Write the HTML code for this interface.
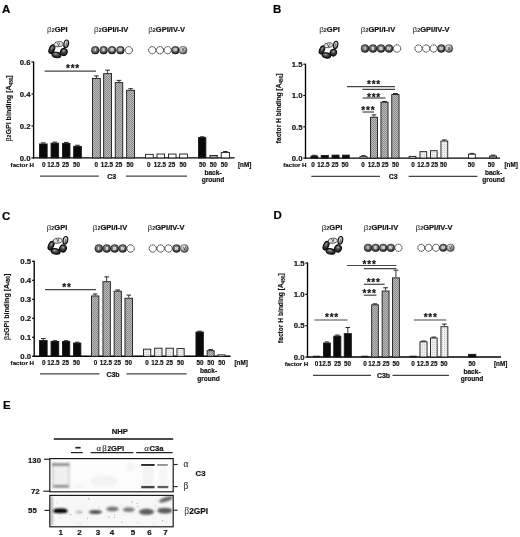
<!DOCTYPE html>
<html><head><meta charset="utf-8"><title>Figure</title>
<style>
html,body{margin:0;padding:0;background:#fff;}
body{width:520px;height:537px;overflow:hidden;}
svg{display:block;font-family:"Liberation Sans",sans-serif;}
</style></head><body>
<svg width="520" height="537" viewBox="0 0 520 537">
<defs>
<pattern id="hatch" width="2" height="2" patternUnits="userSpaceOnUse">
<rect width="2" height="2" fill="#bababa"/><rect width="1" height="1" fill="#8c8c8c"/><rect x="1" y="1" width="1" height="1" fill="#8c8c8c"/>
</pattern>
<pattern id="dots" width="2" height="2" patternUnits="userSpaceOnUse">
<rect width="2" height="2" fill="#efefef"/><rect width="1" height="1" fill="#cfcfcf"/>
</pattern>
<radialGradient id="gDark" cx="0.45" cy="0.42" r="0.6"><stop offset="0" stop-color="#a4a4a4"/><stop offset="0.5" stop-color="#6c6c6c"/><stop offset="0.8" stop-color="#333"/><stop offset="1" stop-color="#0c0c0c"/></radialGradient>
<radialGradient id="gRing" cx="0.4" cy="0.35" r="0.7"><stop offset="0" stop-color="#a8a8a8"/><stop offset="0.4" stop-color="#4a4a4a"/><stop offset="1" stop-color="#141414"/></radialGradient>
<radialGradient id="gMid" cx="0.38" cy="0.32" r="0.72"><stop offset="0" stop-color="#f0f0f0"/><stop offset="0.5" stop-color="#aaa"/><stop offset="1" stop-color="#3a3a3a"/></radialGradient>
<filter id="blur0" x="-5%" y="-5%" width="110%" height="110%"><feGaussianBlur stdDeviation="0.5"/></filter>
<filter id="blur1" x="-5%" y="-5%" width="110%" height="110%"><feGaussianBlur stdDeviation="0.8"/></filter>
<filter id="blur2" x="-5%" y="-5%" width="110%" height="110%"><feGaussianBlur stdDeviation="1.6"/></filter>
</defs>
<rect width="520" height="537" fill="#fff"/>

<g id="panelA">
<text x="2.00" y="13.20" font-size="11.5" text-anchor="start" font-weight="bold" fill="#000" stroke="#000" stroke-width="0.18" >A</text>
<text x="57.30" y="32.30" font-size="7.5" text-anchor="middle" fill="#111"><tspan font-weight="normal" fill="#222" font-size="8.10">β</tspan><tspan font-size="5.40" font-weight="bold">2</tspan><tspan font-weight="bold" stroke="#111" stroke-width="0.2">GPI</tspan></text>
<text x="111.20" y="32.30" font-size="7.5" text-anchor="middle" fill="#111"><tspan font-weight="normal" fill="#222" font-size="8.10">β</tspan><tspan font-size="5.40" font-weight="bold">2</tspan><tspan font-weight="bold" stroke="#111" stroke-width="0.2">GPI/I-IV</tspan></text>
<text x="166.60" y="32.30" font-size="7.5" text-anchor="middle" fill="#111"><tspan font-weight="normal" fill="#222" font-size="8.10">β</tspan><tspan font-size="5.40" font-weight="bold">2</tspan><tspan font-weight="bold" stroke="#111" stroke-width="0.2">GPI/IV-V</tspan></text>
<g transform="translate(58.80,49.00) scale(1.0)">
<ellipse cx="-6.9" cy="0.0" rx="2.5" ry="4.5" fill="url(#gRing)" stroke="#0a0a0a" stroke-width="1.1" transform="rotate(24 -7.2 0)"/>
<ellipse cx="-2.4" cy="5.9" rx="4.6" ry="2.7" fill="url(#gRing)" stroke="#0a0a0a" stroke-width="1.1" transform="rotate(10 -2.4 5.9)"/>
<ellipse cx="5.0" cy="3.0" rx="3.3" ry="3.5" fill="url(#gRing)" stroke="#0a0a0a" stroke-width="1.1" transform="rotate(30 5 3)"/>
<ellipse cx="7.4" cy="-5.1" rx="2.3" ry="3.9" fill="url(#gMid)" stroke="#0a0a0a" stroke-width="1.1" transform="rotate(10 7.4 -5.1)"/>
<ellipse cx="-0.2" cy="-4.8" rx="4.5" ry="2.5" fill="#e2e2e2" stroke="#333" stroke-width="0.8" transform="rotate(-6 -0.2 -4.8)"/>
<text x="-0.2" y="-3.3" font-size="4" text-anchor="middle" font-weight="bold" fill="#111">V</text>
<text x="7.4" y="-3.8" font-size="3.4" text-anchor="middle" font-weight="bold" fill="#222">I</text>
</g>
<circle cx="95.20" cy="50.20" r="3.90" fill="url(#gDark)" stroke="#111" stroke-width="0.4"/>
<circle cx="103.60" cy="50.20" r="3.90" fill="url(#gDark)" stroke="#111" stroke-width="0.4"/>
<circle cx="112.00" cy="50.20" r="3.90" fill="url(#gDark)" stroke="#111" stroke-width="0.4"/>
<circle cx="120.40" cy="50.20" r="3.90" fill="url(#gDark)" stroke="#111" stroke-width="0.4"/>
<circle cx="128.80" cy="50.20" r="3.60" fill="#fff" stroke="#222" stroke-width="0.9" stroke-dasharray="1.8 0.4"/>
<text x="95.20" y="51.40" font-size="3.8" text-anchor="middle" font-weight="bold" fill="#fff">I</text>
<text x="103.60" y="51.40" font-size="3.8" text-anchor="middle" font-weight="bold" fill="#fff">II</text>
<text x="112.00" y="51.40" font-size="3.8" text-anchor="middle" font-weight="bold" fill="#fff">III</text>
<text x="120.40" y="51.40" font-size="3.8" text-anchor="middle" font-weight="bold" fill="#fff">IV</text>
<circle cx="152.30" cy="50.20" r="3.60" fill="#fff" stroke="#222" stroke-width="0.9" stroke-dasharray="1.8 0.4"/>
<circle cx="160.00" cy="50.20" r="3.60" fill="#fff" stroke="#222" stroke-width="0.9" stroke-dasharray="1.8 0.4"/>
<circle cx="167.70" cy="50.20" r="3.60" fill="#fff" stroke="#222" stroke-width="0.9" stroke-dasharray="1.8 0.4"/>
<circle cx="175.40" cy="50.20" r="3.90" fill="url(#gDark)" stroke="#111" stroke-width="0.4"/>
<circle cx="183.10" cy="50.20" r="3.90" fill="url(#gMid)" stroke="#333" stroke-width="0.5"/>
<text x="175.40" y="51.40" font-size="3.8" text-anchor="middle" font-weight="bold" fill="#fff">IV</text>
<text x="183.10" y="51.40" font-size="3.8" text-anchor="middle" font-weight="bold" fill="#222">V</text>
<line x1="33.60" y1="61.50" x2="33.60" y2="158.50" stroke="#000" stroke-width="1.35"/>
<line x1="33.00" y1="157.90" x2="234.60" y2="157.90" stroke="#000" stroke-width="1.4"/>
<line x1="31.40" y1="157.90" x2="33.60" y2="157.90" stroke="#000" stroke-width="1.1"/>
<text x="30.60" y="160.65" font-size="7.8" text-anchor="end" font-weight="bold" fill="#111" stroke="#111" stroke-width="0.18" >0.0</text>
<line x1="31.40" y1="125.93" x2="33.60" y2="125.93" stroke="#000" stroke-width="1.1"/>
<text x="30.60" y="128.68" font-size="7.8" text-anchor="end" font-weight="bold" fill="#111" stroke="#111" stroke-width="0.18" >0.2</text>
<line x1="31.40" y1="93.97" x2="33.60" y2="93.97" stroke="#000" stroke-width="1.1"/>
<text x="30.60" y="96.72" font-size="7.8" text-anchor="end" font-weight="bold" fill="#111" stroke="#111" stroke-width="0.18" >0.4</text>
<line x1="31.40" y1="62.00" x2="33.60" y2="62.00" stroke="#000" stroke-width="1.1"/>
<text x="30.60" y="64.75" font-size="7.8" text-anchor="end" font-weight="bold" fill="#111" stroke="#111" stroke-width="0.18" >0.6</text>
<text transform="translate(11.20,108.40) rotate(-90)" font-size="7.1" text-anchor="middle" font-weight="bold" fill="#111" stroke="#111" stroke-width="0.15"><tspan font-weight="normal">β</tspan><tspan font-size="5">2</tspan>GPI binding [A<tspan font-size="4.6" dy="1.3">450</tspan><tspan dy="-1.3">]</tspan></text>
<line x1="43.30" y1="142.88" x2="43.30" y2="143.52" stroke="#222" stroke-width="0.9"/>
<line x1="41.00" y1="142.88" x2="45.60" y2="142.88" stroke="#222" stroke-width="1.0"/>
<rect x="39.45" y="143.97" width="7.70" height="13.93" fill="#0a0a0a" stroke="#1a1a1a" stroke-width="0.9"/>
<line x1="54.85" y1="142.08" x2="54.85" y2="142.72" stroke="#222" stroke-width="0.9"/>
<line x1="52.55" y1="142.08" x2="57.15" y2="142.08" stroke="#222" stroke-width="1.0"/>
<rect x="51.05" y="143.17" width="7.60" height="14.73" fill="#0a0a0a" stroke="#1a1a1a" stroke-width="0.9"/>
<line x1="66.20" y1="142.40" x2="66.20" y2="143.04" stroke="#222" stroke-width="0.9"/>
<line x1="63.90" y1="142.40" x2="68.50" y2="142.40" stroke="#222" stroke-width="1.0"/>
<rect x="62.45" y="143.49" width="7.50" height="14.41" fill="#0a0a0a" stroke="#1a1a1a" stroke-width="0.9"/>
<line x1="77.50" y1="145.27" x2="77.50" y2="145.91" stroke="#222" stroke-width="0.9"/>
<line x1="75.20" y1="145.27" x2="79.80" y2="145.27" stroke="#222" stroke-width="1.0"/>
<rect x="73.65" y="146.36" width="7.70" height="11.54" fill="#0a0a0a" stroke="#1a1a1a" stroke-width="0.9"/>
<line x1="96.40" y1="75.91" x2="96.40" y2="77.98" stroke="#222" stroke-width="0.9"/>
<line x1="94.10" y1="75.91" x2="98.70" y2="75.91" stroke="#222" stroke-width="1.0"/>
<rect x="92.45" y="78.43" width="7.90" height="79.47" fill="url(#hatch)" stroke="#1a1a1a" stroke-width="0.9"/>
<line x1="107.60" y1="70.15" x2="107.60" y2="73.19" stroke="#222" stroke-width="0.9"/>
<line x1="105.30" y1="70.15" x2="109.90" y2="70.15" stroke="#222" stroke-width="1.0"/>
<rect x="103.65" y="73.64" width="7.90" height="84.26" fill="url(#hatch)" stroke="#1a1a1a" stroke-width="0.9"/>
<line x1="119.00" y1="80.38" x2="119.00" y2="82.14" stroke="#222" stroke-width="0.9"/>
<line x1="116.70" y1="80.38" x2="121.30" y2="80.38" stroke="#222" stroke-width="1.0"/>
<rect x="115.25" y="82.59" width="7.50" height="75.31" fill="url(#hatch)" stroke="#1a1a1a" stroke-width="0.9"/>
<line x1="130.60" y1="88.69" x2="130.60" y2="89.81" stroke="#222" stroke-width="0.9"/>
<line x1="128.30" y1="88.69" x2="132.90" y2="88.69" stroke="#222" stroke-width="1.0"/>
<rect x="126.65" y="90.26" width="7.90" height="67.64" fill="url(#hatch)" stroke="#1a1a1a" stroke-width="0.9"/>
<rect x="145.45" y="154.35" width="7.80" height="3.55" fill="#fff" stroke="#1a1a1a" stroke-width="0.9"/>
<rect x="156.95" y="154.03" width="7.60" height="3.87" fill="#fff" stroke="#1a1a1a" stroke-width="0.9"/>
<rect x="168.45" y="154.03" width="7.60" height="3.87" fill="#fff" stroke="#1a1a1a" stroke-width="0.9"/>
<rect x="179.65" y="154.03" width="7.90" height="3.87" fill="#fff" stroke="#1a1a1a" stroke-width="0.9"/>
<line x1="202.15" y1="136.80" x2="202.15" y2="137.12" stroke="#222" stroke-width="0.9"/>
<line x1="199.85" y1="136.80" x2="204.45" y2="136.80" stroke="#222" stroke-width="1.0"/>
<rect x="198.45" y="137.57" width="7.40" height="20.33" fill="#0a0a0a" stroke="#1a1a1a" stroke-width="0.9"/>
<rect x="209.95" y="155.47" width="7.30" height="2.43" fill="url(#hatch)" stroke="#1a1a1a" stroke-width="0.9"/>
<line x1="225.40" y1="151.51" x2="225.40" y2="152.15" stroke="#222" stroke-width="0.9"/>
<line x1="223.10" y1="151.51" x2="227.70" y2="151.51" stroke="#222" stroke-width="1.0"/>
<rect x="221.25" y="152.60" width="8.30" height="5.30" fill="#fff" stroke="#1a1a1a" stroke-width="0.9"/>
<text x="34.00" y="166.50" font-size="6.2" text-anchor="end" font-weight="bold" fill="#111" stroke="#111" stroke-width="0.18" >factor H</text>
<text x="43.70" y="166.50" font-size="6.3" text-anchor="middle" font-weight="bold" fill="#111" stroke="#111" stroke-width="0.18" >0</text>
<text x="53.50" y="166.50" font-size="6.3" text-anchor="middle" font-weight="bold" fill="#111" stroke="#111" stroke-width="0.18" >12.5</text>
<text x="65.50" y="166.50" font-size="6.3" text-anchor="middle" font-weight="bold" fill="#111" stroke="#111" stroke-width="0.18" >25</text>
<text x="76.50" y="166.50" font-size="6.3" text-anchor="middle" font-weight="bold" fill="#111" stroke="#111" stroke-width="0.18" >50</text>
<text x="96.30" y="166.50" font-size="6.3" text-anchor="middle" font-weight="bold" fill="#111" stroke="#111" stroke-width="0.18" >0</text>
<text x="107.00" y="166.50" font-size="6.3" text-anchor="middle" font-weight="bold" fill="#111" stroke="#111" stroke-width="0.18" >12.5</text>
<text x="118.80" y="166.50" font-size="6.3" text-anchor="middle" font-weight="bold" fill="#111" stroke="#111" stroke-width="0.18" >25</text>
<text x="130.00" y="166.50" font-size="6.3" text-anchor="middle" font-weight="bold" fill="#111" stroke="#111" stroke-width="0.18" >50</text>
<text x="148.80" y="166.50" font-size="6.3" text-anchor="middle" font-weight="bold" fill="#111" stroke="#111" stroke-width="0.18" >0</text>
<text x="160.00" y="166.50" font-size="6.3" text-anchor="middle" font-weight="bold" fill="#111" stroke="#111" stroke-width="0.18" >12.5</text>
<text x="171.80" y="166.50" font-size="6.3" text-anchor="middle" font-weight="bold" fill="#111" stroke="#111" stroke-width="0.18" >25</text>
<text x="183.00" y="166.50" font-size="6.3" text-anchor="middle" font-weight="bold" fill="#111" stroke="#111" stroke-width="0.18" >50</text>
<text x="202.50" y="166.50" font-size="6.3" text-anchor="middle" font-weight="bold" fill="#111" stroke="#111" stroke-width="0.18" >50</text>
<text x="213.30" y="166.50" font-size="6.3" text-anchor="middle" font-weight="bold" fill="#111" stroke="#111" stroke-width="0.18" >50</text>
<text x="224.30" y="166.50" font-size="6.3" text-anchor="middle" font-weight="bold" fill="#111" stroke="#111" stroke-width="0.18" >50</text>
<text x="238.00" y="166.50" font-size="6.3" text-anchor="start" font-weight="bold" fill="#111" stroke="#111" stroke-width="0.18" >[nM]</text>
<text x="111.80" y="178.90" font-size="7" text-anchor="middle" font-weight="bold" fill="#111" stroke="#111" stroke-width="0.18" >C3</text>
<line x1="40.00" y1="176.20" x2="98.80" y2="176.20" stroke="#444" stroke-width="1.3"/>
<line x1="126.00" y1="176.20" x2="187.00" y2="176.20" stroke="#444" stroke-width="1.3"/>
<text x="213.00" y="174.90" font-size="6.6" text-anchor="middle" font-weight="bold" fill="#111" stroke="#111" stroke-width="0.18" >back-</text>
<text x="213.00" y="182.20" font-size="6.6" text-anchor="middle" font-weight="bold" fill="#111" stroke="#111" stroke-width="0.18" >ground</text>
<line x1="44.60" y1="71.20" x2="96.00" y2="71.20" stroke="#444" stroke-width="1.2"/>
<text x="73.00" y="72.30" font-size="10" text-anchor="middle" font-weight="bold" fill="#111" stroke="#111" stroke-width="0.18" letter-spacing="0.8">***</text>
</g>
<g id="panelB">
<text x="273.00" y="13.20" font-size="11.5" text-anchor="start" font-weight="bold" fill="#000" stroke="#000" stroke-width="0.18" >B</text>
<text x="329.50" y="32.30" font-size="7.5" text-anchor="middle" fill="#111"><tspan font-weight="normal" fill="#222" font-size="8.10">β</tspan><tspan font-size="5.40" font-weight="bold">2</tspan><tspan font-weight="bold" stroke="#111" stroke-width="0.2">GPI</tspan></text>
<text x="378.00" y="32.30" font-size="7.5" text-anchor="middle" fill="#111"><tspan font-weight="normal" fill="#222" font-size="8.10">β</tspan><tspan font-size="5.40" font-weight="bold">2</tspan><tspan font-weight="bold" stroke="#111" stroke-width="0.2">GPI/I-IV</tspan></text>
<text x="431.00" y="32.30" font-size="7.5" text-anchor="middle" fill="#111"><tspan font-weight="normal" fill="#222" font-size="8.10">β</tspan><tspan font-size="5.40" font-weight="bold">2</tspan><tspan font-weight="bold" stroke="#111" stroke-width="0.2">GPI/IV-V</tspan></text>
<g transform="translate(328.60,49.80) scale(0.95)">
<ellipse cx="-6.9" cy="0.0" rx="2.5" ry="4.5" fill="url(#gRing)" stroke="#0a0a0a" stroke-width="1.1" transform="rotate(24 -7.2 0)"/>
<ellipse cx="-2.4" cy="5.9" rx="4.6" ry="2.7" fill="url(#gRing)" stroke="#0a0a0a" stroke-width="1.1" transform="rotate(10 -2.4 5.9)"/>
<ellipse cx="5.0" cy="3.0" rx="3.3" ry="3.5" fill="url(#gRing)" stroke="#0a0a0a" stroke-width="1.1" transform="rotate(30 5 3)"/>
<ellipse cx="7.4" cy="-5.1" rx="2.3" ry="3.9" fill="url(#gMid)" stroke="#0a0a0a" stroke-width="1.1" transform="rotate(10 7.4 -5.1)"/>
<ellipse cx="-0.2" cy="-4.8" rx="4.5" ry="2.5" fill="#e2e2e2" stroke="#333" stroke-width="0.8" transform="rotate(-6 -0.2 -4.8)"/>
<text x="-0.2" y="-3.3" font-size="4" text-anchor="middle" font-weight="bold" fill="#111">V</text>
<text x="7.4" y="-3.8" font-size="3.4" text-anchor="middle" font-weight="bold" fill="#222">I</text>
</g>
<circle cx="365.00" cy="48.50" r="4.00" fill="url(#gDark)" stroke="#111" stroke-width="0.4"/>
<circle cx="373.00" cy="48.50" r="4.00" fill="url(#gDark)" stroke="#111" stroke-width="0.4"/>
<circle cx="381.00" cy="48.50" r="4.00" fill="url(#gDark)" stroke="#111" stroke-width="0.4"/>
<circle cx="389.00" cy="48.50" r="4.00" fill="url(#gDark)" stroke="#111" stroke-width="0.4"/>
<circle cx="397.00" cy="48.50" r="3.70" fill="#fff" stroke="#222" stroke-width="0.9" stroke-dasharray="1.8 0.4"/>
<text x="365.00" y="49.70" font-size="3.8" text-anchor="middle" font-weight="bold" fill="#fff">I</text>
<text x="373.00" y="49.70" font-size="3.8" text-anchor="middle" font-weight="bold" fill="#fff">II</text>
<text x="381.00" y="49.70" font-size="3.8" text-anchor="middle" font-weight="bold" fill="#fff">III</text>
<text x="389.00" y="49.70" font-size="3.8" text-anchor="middle" font-weight="bold" fill="#fff">IV</text>
<circle cx="418.50" cy="48.50" r="3.60" fill="#fff" stroke="#222" stroke-width="0.9" stroke-dasharray="1.8 0.4"/>
<circle cx="426.10" cy="48.50" r="3.60" fill="#fff" stroke="#222" stroke-width="0.9" stroke-dasharray="1.8 0.4"/>
<circle cx="433.70" cy="48.50" r="3.60" fill="#fff" stroke="#222" stroke-width="0.9" stroke-dasharray="1.8 0.4"/>
<circle cx="441.30" cy="48.50" r="3.90" fill="url(#gDark)" stroke="#111" stroke-width="0.4"/>
<circle cx="448.90" cy="48.50" r="3.90" fill="url(#gMid)" stroke="#333" stroke-width="0.5"/>
<text x="441.30" y="49.70" font-size="3.8" text-anchor="middle" font-weight="bold" fill="#fff">IV</text>
<text x="448.90" y="49.70" font-size="3.8" text-anchor="middle" font-weight="bold" fill="#222">V</text>
<line x1="305.50" y1="63.70" x2="305.50" y2="158.70" stroke="#000" stroke-width="1.35"/>
<line x1="304.90" y1="158.10" x2="500.00" y2="158.10" stroke="#000" stroke-width="1.4"/>
<line x1="303.30" y1="158.10" x2="305.50" y2="158.10" stroke="#000" stroke-width="1.1"/>
<text x="302.50" y="160.85" font-size="7.8" text-anchor="end" font-weight="bold" fill="#111" stroke="#111" stroke-width="0.18" >0.0</text>
<line x1="303.30" y1="126.80" x2="305.50" y2="126.80" stroke="#000" stroke-width="1.1"/>
<text x="302.50" y="129.55" font-size="7.8" text-anchor="end" font-weight="bold" fill="#111" stroke="#111" stroke-width="0.18" >0.5</text>
<line x1="303.30" y1="95.50" x2="305.50" y2="95.50" stroke="#000" stroke-width="1.1"/>
<text x="302.50" y="98.25" font-size="7.8" text-anchor="end" font-weight="bold" fill="#111" stroke="#111" stroke-width="0.18" >1.0</text>
<line x1="303.30" y1="64.20" x2="305.50" y2="64.20" stroke="#000" stroke-width="1.1"/>
<text x="302.50" y="66.95" font-size="7.8" text-anchor="end" font-weight="bold" fill="#111" stroke="#111" stroke-width="0.18" >1.5</text>
<text transform="translate(281.20,108.40) rotate(-90)" font-size="6.65" text-anchor="middle" font-weight="bold" fill="#111" stroke="#111" stroke-width="0.15">factor H binding [A<tspan font-size="4.6" dy="1.3">450</tspan><tspan dy="-1.3">]</tspan></text>
<line x1="314.35" y1="155.28" x2="314.35" y2="155.60" stroke="#222" stroke-width="0.9"/>
<line x1="312.05" y1="155.28" x2="316.65" y2="155.28" stroke="#222" stroke-width="1.0"/>
<rect x="310.95" y="156.05" width="6.80" height="2.05" fill="#0a0a0a" stroke="#1a1a1a" stroke-width="0.9"/>
<rect x="321.25" y="155.42" width="7.10" height="2.68" fill="#0a0a0a" stroke="#1a1a1a" stroke-width="0.9"/>
<rect x="332.05" y="155.11" width="7.00" height="2.99" fill="#0a0a0a" stroke="#1a1a1a" stroke-width="0.9"/>
<rect x="342.45" y="155.11" width="6.80" height="2.99" fill="#0a0a0a" stroke="#1a1a1a" stroke-width="0.9"/>
<line x1="363.50" y1="155.72" x2="363.50" y2="156.22" stroke="#222" stroke-width="0.9"/>
<line x1="361.20" y1="155.72" x2="365.80" y2="155.72" stroke="#222" stroke-width="1.0"/>
<rect x="359.95" y="156.67" width="7.10" height="1.43" fill="url(#dots)" stroke="#1a1a1a" stroke-width="0.9"/>
<line x1="374.00" y1="114.91" x2="374.00" y2="116.78" stroke="#222" stroke-width="0.9"/>
<line x1="371.70" y1="114.91" x2="376.30" y2="114.91" stroke="#222" stroke-width="1.0"/>
<rect x="370.45" y="117.23" width="7.10" height="40.87" fill="url(#hatch)" stroke="#1a1a1a" stroke-width="0.9"/>
<line x1="384.50" y1="101.45" x2="384.50" y2="101.76" stroke="#222" stroke-width="0.9"/>
<line x1="382.20" y1="101.45" x2="386.80" y2="101.45" stroke="#222" stroke-width="1.0"/>
<rect x="380.95" y="102.21" width="7.10" height="55.89" fill="url(#hatch)" stroke="#1a1a1a" stroke-width="0.9"/>
<line x1="395.40" y1="93.50" x2="395.40" y2="94.12" stroke="#222" stroke-width="0.9"/>
<line x1="393.10" y1="93.50" x2="397.70" y2="93.50" stroke="#222" stroke-width="1.0"/>
<rect x="391.75" y="94.57" width="7.30" height="63.53" fill="url(#hatch)" stroke="#1a1a1a" stroke-width="0.9"/>
<rect x="409.15" y="156.36" width="6.70" height="1.74" fill="url(#dots)" stroke="#1a1a1a" stroke-width="0.9"/>
<rect x="419.95" y="151.66" width="6.80" height="6.44" fill="url(#dots)" stroke="#1a1a1a" stroke-width="0.9"/>
<rect x="430.45" y="150.72" width="6.70" height="7.37" fill="url(#dots)" stroke="#1a1a1a" stroke-width="0.9"/>
<line x1="444.35" y1="139.95" x2="444.35" y2="140.57" stroke="#222" stroke-width="0.9"/>
<line x1="442.05" y1="139.95" x2="446.65" y2="139.95" stroke="#222" stroke-width="1.0"/>
<rect x="440.95" y="141.02" width="6.80" height="17.08" fill="url(#dots)" stroke="#1a1a1a" stroke-width="0.9"/>
<line x1="471.90" y1="153.41" x2="471.90" y2="153.72" stroke="#222" stroke-width="0.9"/>
<line x1="469.60" y1="153.41" x2="474.20" y2="153.41" stroke="#222" stroke-width="1.0"/>
<rect x="468.45" y="154.17" width="6.90" height="3.93" fill="#fff" stroke="#1a1a1a" stroke-width="0.9"/>
<line x1="493.10" y1="155.10" x2="493.10" y2="155.60" stroke="#222" stroke-width="0.9"/>
<line x1="490.80" y1="155.10" x2="495.40" y2="155.10" stroke="#222" stroke-width="1.0"/>
<rect x="489.65" y="156.05" width="6.90" height="2.05" fill="url(#hatch)" stroke="#1a1a1a" stroke-width="0.9"/>
<text x="306.60" y="166.70" font-size="6.2" text-anchor="end" font-weight="bold" fill="#111" stroke="#111" stroke-width="0.18" >factor H</text>
<text x="313.00" y="166.70" font-size="6.3" text-anchor="middle" font-weight="bold" fill="#111" stroke="#111" stroke-width="0.18" >0</text>
<text x="323.30" y="166.70" font-size="6.3" text-anchor="middle" font-weight="bold" fill="#111" stroke="#111" stroke-width="0.18" >12.5</text>
<text x="335.00" y="166.70" font-size="6.3" text-anchor="middle" font-weight="bold" fill="#111" stroke="#111" stroke-width="0.18" >25</text>
<text x="345.00" y="166.70" font-size="6.3" text-anchor="middle" font-weight="bold" fill="#111" stroke="#111" stroke-width="0.18" >50</text>
<text x="363.00" y="166.70" font-size="6.3" text-anchor="middle" font-weight="bold" fill="#111" stroke="#111" stroke-width="0.18" >0</text>
<text x="373.80" y="166.70" font-size="6.3" text-anchor="middle" font-weight="bold" fill="#111" stroke="#111" stroke-width="0.18" >12.5</text>
<text x="385.00" y="166.70" font-size="6.3" text-anchor="middle" font-weight="bold" fill="#111" stroke="#111" stroke-width="0.18" >25</text>
<text x="395.50" y="166.70" font-size="6.3" text-anchor="middle" font-weight="bold" fill="#111" stroke="#111" stroke-width="0.18" >50</text>
<text x="413.00" y="166.70" font-size="6.3" text-anchor="middle" font-weight="bold" fill="#111" stroke="#111" stroke-width="0.18" >0</text>
<text x="423.30" y="166.70" font-size="6.3" text-anchor="middle" font-weight="bold" fill="#111" stroke="#111" stroke-width="0.18" >12.5</text>
<text x="434.50" y="166.70" font-size="6.3" text-anchor="middle" font-weight="bold" fill="#111" stroke="#111" stroke-width="0.18" >25</text>
<text x="443.50" y="166.70" font-size="6.3" text-anchor="middle" font-weight="bold" fill="#111" stroke="#111" stroke-width="0.18" >50</text>
<text x="471.30" y="166.70" font-size="6.3" text-anchor="middle" font-weight="bold" fill="#111" stroke="#111" stroke-width="0.18" >50</text>
<text x="491.30" y="166.70" font-size="6.3" text-anchor="middle" font-weight="bold" fill="#111" stroke="#111" stroke-width="0.18" >50</text>
<text x="504.50" y="166.70" font-size="6.3" text-anchor="start" font-weight="bold" fill="#111" stroke="#111" stroke-width="0.18" >[nM]</text>
<text x="393.20" y="179.10" font-size="7" text-anchor="middle" font-weight="bold" fill="#111" stroke="#111" stroke-width="0.18" >C3</text>
<line x1="311.30" y1="176.40" x2="380.00" y2="176.40" stroke="#444" stroke-width="1.3"/>
<line x1="408.70" y1="176.40" x2="477.50" y2="176.40" stroke="#444" stroke-width="1.3"/>
<text x="493.50" y="175.10" font-size="6.6" text-anchor="middle" font-weight="bold" fill="#111" stroke="#111" stroke-width="0.18" >back-</text>
<text x="493.50" y="182.40" font-size="6.6" text-anchor="middle" font-weight="bold" fill="#111" stroke="#111" stroke-width="0.18" >ground</text>
<line x1="347.00" y1="86.60" x2="395.00" y2="86.60" stroke="#444" stroke-width="1.2"/>
<text x="374.00" y="87.80" font-size="10" text-anchor="middle" font-weight="bold" fill="#111" stroke="#111" stroke-width="0.18" letter-spacing="0.8">***</text>
<line x1="362.50" y1="89.40" x2="395.00" y2="89.40" stroke="#444" stroke-width="1.2"/>
<line x1="362.50" y1="98.00" x2="385.50" y2="98.00" stroke="#444" stroke-width="1.2"/>
<text x="374.00" y="100.80" font-size="10" text-anchor="middle" font-weight="bold" fill="#111" stroke="#111" stroke-width="0.18" letter-spacing="0.8">***</text>
<line x1="362.50" y1="112.00" x2="374.00" y2="112.00" stroke="#444" stroke-width="1.2"/>
<text x="368.30" y="113.80" font-size="10" text-anchor="middle" font-weight="bold" fill="#111" stroke="#111" stroke-width="0.18" letter-spacing="0.8">***</text>
</g>
<g id="panelC">
<text x="2.00" y="219.50" font-size="11.5" text-anchor="start" font-weight="bold" fill="#000" stroke="#000" stroke-width="0.18" >C</text>
<text x="57.00" y="230.30" font-size="7.5" text-anchor="middle" fill="#111"><tspan font-weight="normal" fill="#222" font-size="8.10">β</tspan><tspan font-size="5.40" font-weight="bold">2</tspan><tspan font-weight="bold" stroke="#111" stroke-width="0.2">GPI</tspan></text>
<text x="110.00" y="230.30" font-size="7.5" text-anchor="middle" fill="#111"><tspan font-weight="normal" fill="#222" font-size="8.10">β</tspan><tspan font-size="5.40" font-weight="bold">2</tspan><tspan font-weight="bold" stroke="#111" stroke-width="0.2">GPI/I-IV</tspan></text>
<text x="166.00" y="230.30" font-size="7.5" text-anchor="middle" fill="#111"><tspan font-weight="normal" fill="#222" font-size="8.10">β</tspan><tspan font-size="5.40" font-weight="bold">2</tspan><tspan font-weight="bold" stroke="#111" stroke-width="0.2">GPI/IV-V</tspan></text>
<g transform="translate(58.00,245.50) scale(1.0)">
<ellipse cx="-6.9" cy="0.0" rx="2.5" ry="4.5" fill="url(#gRing)" stroke="#0a0a0a" stroke-width="1.1" transform="rotate(24 -7.2 0)"/>
<ellipse cx="-2.4" cy="5.9" rx="4.6" ry="2.7" fill="url(#gRing)" stroke="#0a0a0a" stroke-width="1.1" transform="rotate(10 -2.4 5.9)"/>
<ellipse cx="5.0" cy="3.0" rx="3.3" ry="3.5" fill="url(#gRing)" stroke="#0a0a0a" stroke-width="1.1" transform="rotate(30 5 3)"/>
<ellipse cx="7.4" cy="-5.1" rx="2.3" ry="3.9" fill="url(#gMid)" stroke="#0a0a0a" stroke-width="1.1" transform="rotate(10 7.4 -5.1)"/>
<ellipse cx="-0.2" cy="-4.8" rx="4.5" ry="2.5" fill="#e2e2e2" stroke="#333" stroke-width="0.8" transform="rotate(-6 -0.2 -4.8)"/>
<text x="-0.2" y="-3.3" font-size="4" text-anchor="middle" font-weight="bold" fill="#111">V</text>
<text x="7.4" y="-3.8" font-size="3.4" text-anchor="middle" font-weight="bold" fill="#222">I</text>
</g>
<circle cx="98.80" cy="248.50" r="4.00" fill="url(#gDark)" stroke="#111" stroke-width="0.4"/>
<circle cx="106.75" cy="248.50" r="4.00" fill="url(#gDark)" stroke="#111" stroke-width="0.4"/>
<circle cx="114.70" cy="248.50" r="4.00" fill="url(#gDark)" stroke="#111" stroke-width="0.4"/>
<circle cx="122.65" cy="248.50" r="4.00" fill="url(#gDark)" stroke="#111" stroke-width="0.4"/>
<circle cx="130.60" cy="248.50" r="3.70" fill="#fff" stroke="#222" stroke-width="0.9" stroke-dasharray="1.8 0.4"/>
<text x="98.80" y="249.70" font-size="3.8" text-anchor="middle" font-weight="bold" fill="#fff">I</text>
<text x="106.75" y="249.70" font-size="3.8" text-anchor="middle" font-weight="bold" fill="#fff">II</text>
<text x="114.70" y="249.70" font-size="3.8" text-anchor="middle" font-weight="bold" fill="#fff">III</text>
<text x="122.65" y="249.70" font-size="3.8" text-anchor="middle" font-weight="bold" fill="#fff">IV</text>
<circle cx="152.80" cy="248.50" r="3.65" fill="#fff" stroke="#222" stroke-width="0.9" stroke-dasharray="1.8 0.4"/>
<circle cx="160.70" cy="248.50" r="3.65" fill="#fff" stroke="#222" stroke-width="0.9" stroke-dasharray="1.8 0.4"/>
<circle cx="168.60" cy="248.50" r="3.65" fill="#fff" stroke="#222" stroke-width="0.9" stroke-dasharray="1.8 0.4"/>
<circle cx="176.50" cy="248.50" r="3.95" fill="url(#gDark)" stroke="#111" stroke-width="0.4"/>
<circle cx="184.40" cy="248.50" r="3.95" fill="url(#gMid)" stroke="#333" stroke-width="0.5"/>
<text x="176.50" y="249.70" font-size="3.8" text-anchor="middle" font-weight="bold" fill="#fff">IV</text>
<text x="184.40" y="249.70" font-size="3.8" text-anchor="middle" font-weight="bold" fill="#222">V</text>
<line x1="34.20" y1="260.80" x2="34.20" y2="356.90" stroke="#000" stroke-width="1.35"/>
<line x1="33.60" y1="356.30" x2="230.50" y2="356.30" stroke="#000" stroke-width="1.4"/>
<line x1="32.00" y1="356.30" x2="34.20" y2="356.30" stroke="#000" stroke-width="1.1"/>
<text x="31.20" y="359.05" font-size="7.8" text-anchor="end" font-weight="bold" fill="#111" stroke="#111" stroke-width="0.18" >0.0</text>
<line x1="32.00" y1="337.30" x2="34.20" y2="337.30" stroke="#000" stroke-width="1.1"/>
<text x="31.20" y="340.05" font-size="7.8" text-anchor="end" font-weight="bold" fill="#111" stroke="#111" stroke-width="0.18" >0.1</text>
<line x1="32.00" y1="318.30" x2="34.20" y2="318.30" stroke="#000" stroke-width="1.1"/>
<text x="31.20" y="321.05" font-size="7.8" text-anchor="end" font-weight="bold" fill="#111" stroke="#111" stroke-width="0.18" >0.2</text>
<line x1="32.00" y1="299.30" x2="34.20" y2="299.30" stroke="#000" stroke-width="1.1"/>
<text x="31.20" y="302.05" font-size="7.8" text-anchor="end" font-weight="bold" fill="#111" stroke="#111" stroke-width="0.18" >0.3</text>
<line x1="32.00" y1="280.30" x2="34.20" y2="280.30" stroke="#000" stroke-width="1.1"/>
<text x="31.20" y="283.05" font-size="7.8" text-anchor="end" font-weight="bold" fill="#111" stroke="#111" stroke-width="0.18" >0.4</text>
<line x1="32.00" y1="261.30" x2="34.20" y2="261.30" stroke="#000" stroke-width="1.1"/>
<text x="31.20" y="264.05" font-size="7.8" text-anchor="end" font-weight="bold" fill="#111" stroke="#111" stroke-width="0.18" >0.5</text>
<text transform="translate(8.60,306.80) rotate(-90)" font-size="7.1" text-anchor="middle" font-weight="bold" fill="#111" stroke="#111" stroke-width="0.15"><tspan font-weight="normal">β</tspan><tspan font-size="5">2</tspan>GPI binding [A<tspan font-size="4.6" dy="1.3">450</tspan><tspan dy="-1.3">]</tspan></text>
<line x1="43.30" y1="338.63" x2="43.30" y2="340.15" stroke="#222" stroke-width="0.9"/>
<line x1="41.00" y1="338.63" x2="45.60" y2="338.63" stroke="#222" stroke-width="1.0"/>
<rect x="39.45" y="340.60" width="7.70" height="15.70" fill="#0a0a0a" stroke="#1a1a1a" stroke-width="0.9"/>
<line x1="54.90" y1="340.72" x2="54.90" y2="341.10" stroke="#222" stroke-width="0.9"/>
<line x1="52.60" y1="340.72" x2="57.20" y2="340.72" stroke="#222" stroke-width="1.0"/>
<rect x="51.05" y="341.55" width="7.70" height="14.75" fill="#0a0a0a" stroke="#1a1a1a" stroke-width="0.9"/>
<line x1="66.10" y1="340.72" x2="66.10" y2="341.10" stroke="#222" stroke-width="0.9"/>
<line x1="63.80" y1="340.72" x2="68.40" y2="340.72" stroke="#222" stroke-width="1.0"/>
<rect x="62.45" y="341.55" width="7.30" height="14.75" fill="#0a0a0a" stroke="#1a1a1a" stroke-width="0.9"/>
<line x1="77.15" y1="342.24" x2="77.15" y2="342.62" stroke="#222" stroke-width="0.9"/>
<line x1="74.85" y1="342.24" x2="79.45" y2="342.24" stroke="#222" stroke-width="1.0"/>
<rect x="73.45" y="343.07" width="7.40" height="13.23" fill="#0a0a0a" stroke="#1a1a1a" stroke-width="0.9"/>
<line x1="95.15" y1="293.98" x2="95.15" y2="295.50" stroke="#222" stroke-width="0.9"/>
<line x1="92.85" y1="293.98" x2="97.45" y2="293.98" stroke="#222" stroke-width="1.0"/>
<rect x="91.45" y="295.95" width="7.40" height="60.35" fill="url(#hatch)" stroke="#1a1a1a" stroke-width="0.9"/>
<line x1="106.65" y1="276.88" x2="106.65" y2="281.25" stroke="#222" stroke-width="0.9"/>
<line x1="104.35" y1="276.88" x2="108.95" y2="276.88" stroke="#222" stroke-width="1.0"/>
<rect x="102.95" y="281.70" width="7.40" height="74.60" fill="url(#hatch)" stroke="#1a1a1a" stroke-width="0.9"/>
<line x1="117.75" y1="289.99" x2="117.75" y2="290.75" stroke="#222" stroke-width="0.9"/>
<line x1="115.45" y1="289.99" x2="120.05" y2="289.99" stroke="#222" stroke-width="1.0"/>
<rect x="114.15" y="291.20" width="7.20" height="65.10" fill="url(#hatch)" stroke="#1a1a1a" stroke-width="0.9"/>
<line x1="128.75" y1="295.12" x2="128.75" y2="297.78" stroke="#222" stroke-width="0.9"/>
<line x1="126.45" y1="295.12" x2="131.05" y2="295.12" stroke="#222" stroke-width="1.0"/>
<rect x="124.95" y="298.23" width="7.60" height="58.07" fill="url(#hatch)" stroke="#1a1a1a" stroke-width="0.9"/>
<rect x="143.45" y="349.15" width="7.30" height="7.15" fill="url(#dots)" stroke="#1a1a1a" stroke-width="0.9"/>
<rect x="154.65" y="348.20" width="7.40" height="8.10" fill="url(#dots)" stroke="#1a1a1a" stroke-width="0.9"/>
<rect x="165.95" y="348.20" width="7.40" height="8.10" fill="url(#dots)" stroke="#1a1a1a" stroke-width="0.9"/>
<rect x="176.95" y="348.58" width="7.20" height="7.72" fill="url(#dots)" stroke="#1a1a1a" stroke-width="0.9"/>
<line x1="199.65" y1="331.22" x2="199.65" y2="331.60" stroke="#222" stroke-width="0.9"/>
<line x1="197.35" y1="331.22" x2="201.95" y2="331.22" stroke="#222" stroke-width="1.0"/>
<rect x="195.95" y="332.05" width="7.40" height="24.25" fill="#0a0a0a" stroke="#1a1a1a" stroke-width="0.9"/>
<line x1="210.65" y1="349.65" x2="210.65" y2="350.22" stroke="#222" stroke-width="0.9"/>
<line x1="208.35" y1="349.65" x2="212.95" y2="349.65" stroke="#222" stroke-width="1.0"/>
<rect x="207.15" y="350.67" width="7.00" height="5.63" fill="url(#hatch)" stroke="#1a1a1a" stroke-width="0.9"/>
<rect x="217.95" y="354.85" width="7.10" height="1.45" fill="#fff" stroke="#1a1a1a" stroke-width="0.9"/>
<text x="34.00" y="364.90" font-size="6.2" text-anchor="end" font-weight="bold" fill="#111" stroke="#111" stroke-width="0.18" >factor H</text>
<text x="43.70" y="364.90" font-size="6.3" text-anchor="middle" font-weight="bold" fill="#111" stroke="#111" stroke-width="0.18" >0</text>
<text x="53.50" y="364.90" font-size="6.3" text-anchor="middle" font-weight="bold" fill="#111" stroke="#111" stroke-width="0.18" >12.5</text>
<text x="65.50" y="364.90" font-size="6.3" text-anchor="middle" font-weight="bold" fill="#111" stroke="#111" stroke-width="0.18" >25</text>
<text x="76.50" y="364.90" font-size="6.3" text-anchor="middle" font-weight="bold" fill="#111" stroke="#111" stroke-width="0.18" >50</text>
<text x="95.50" y="364.90" font-size="6.3" text-anchor="middle" font-weight="bold" fill="#111" stroke="#111" stroke-width="0.18" >0</text>
<text x="106.00" y="364.90" font-size="6.3" text-anchor="middle" font-weight="bold" fill="#111" stroke="#111" stroke-width="0.18" >12.5</text>
<text x="117.50" y="364.90" font-size="6.3" text-anchor="middle" font-weight="bold" fill="#111" stroke="#111" stroke-width="0.18" >25</text>
<text x="128.50" y="364.90" font-size="6.3" text-anchor="middle" font-weight="bold" fill="#111" stroke="#111" stroke-width="0.18" >50</text>
<text x="147.00" y="364.90" font-size="6.3" text-anchor="middle" font-weight="bold" fill="#111" stroke="#111" stroke-width="0.18" >0</text>
<text x="157.50" y="364.90" font-size="6.3" text-anchor="middle" font-weight="bold" fill="#111" stroke="#111" stroke-width="0.18" >12.5</text>
<text x="169.50" y="364.90" font-size="6.3" text-anchor="middle" font-weight="bold" fill="#111" stroke="#111" stroke-width="0.18" >25</text>
<text x="180.50" y="364.90" font-size="6.3" text-anchor="middle" font-weight="bold" fill="#111" stroke="#111" stroke-width="0.18" >50</text>
<text x="200.00" y="364.90" font-size="6.3" text-anchor="middle" font-weight="bold" fill="#111" stroke="#111" stroke-width="0.18" >50</text>
<text x="210.80" y="364.90" font-size="6.3" text-anchor="middle" font-weight="bold" fill="#111" stroke="#111" stroke-width="0.18" >50</text>
<text x="221.80" y="364.90" font-size="6.3" text-anchor="middle" font-weight="bold" fill="#111" stroke="#111" stroke-width="0.18" >50</text>
<text x="234.50" y="364.90" font-size="6.3" text-anchor="start" font-weight="bold" fill="#111" stroke="#111" stroke-width="0.18" >[nM]</text>
<text x="113.00" y="376.60" font-size="7" text-anchor="middle" font-weight="bold" fill="#111" stroke="#111" stroke-width="0.18" >C3b</text>
<line x1="40.00" y1="373.90" x2="99.50" y2="373.90" stroke="#444" stroke-width="1.3"/>
<line x1="126.50" y1="373.90" x2="186.50" y2="373.90" stroke="#444" stroke-width="1.3"/>
<text x="208.50" y="373.30" font-size="6.6" text-anchor="middle" font-weight="bold" fill="#111" stroke="#111" stroke-width="0.18" >back-</text>
<text x="208.50" y="380.60" font-size="6.6" text-anchor="middle" font-weight="bold" fill="#111" stroke="#111" stroke-width="0.18" >ground</text>
<line x1="45.00" y1="289.60" x2="96.00" y2="289.60" stroke="#444" stroke-width="1.2"/>
<text x="67.00" y="291.30" font-size="10" text-anchor="middle" font-weight="bold" fill="#111" stroke="#111" stroke-width="0.18" letter-spacing="0.8">**</text>
</g>
<g id="panelD">
<text x="273.50" y="219.00" font-size="11.5" text-anchor="start" font-weight="bold" fill="#000" stroke="#000" stroke-width="0.18" >D</text>
<text x="332.00" y="230.30" font-size="7.5" text-anchor="middle" fill="#111"><tspan font-weight="normal" fill="#222" font-size="8.10">β</tspan><tspan font-size="5.40" font-weight="bold">2</tspan><tspan font-weight="bold" stroke="#111" stroke-width="0.2">GPI</tspan></text>
<text x="381.00" y="230.30" font-size="7.5" text-anchor="middle" fill="#111"><tspan font-weight="normal" fill="#222" font-size="8.10">β</tspan><tspan font-size="5.40" font-weight="bold">2</tspan><tspan font-weight="bold" stroke="#111" stroke-width="0.2">GPI/I-IV</tspan></text>
<text x="434.00" y="230.30" font-size="7.5" text-anchor="middle" fill="#111"><tspan font-weight="normal" fill="#222" font-size="8.10">β</tspan><tspan font-size="5.40" font-weight="bold">2</tspan><tspan font-weight="bold" stroke="#111" stroke-width="0.2">GPI/IV-V</tspan></text>
<g transform="translate(333.00,245.50) scale(1.0)">
<ellipse cx="-6.9" cy="0.0" rx="2.5" ry="4.5" fill="url(#gRing)" stroke="#0a0a0a" stroke-width="1.1" transform="rotate(24 -7.2 0)"/>
<ellipse cx="-2.4" cy="5.9" rx="4.6" ry="2.7" fill="url(#gRing)" stroke="#0a0a0a" stroke-width="1.1" transform="rotate(10 -2.4 5.9)"/>
<ellipse cx="5.0" cy="3.0" rx="3.3" ry="3.5" fill="url(#gRing)" stroke="#0a0a0a" stroke-width="1.1" transform="rotate(30 5 3)"/>
<ellipse cx="7.4" cy="-5.1" rx="2.3" ry="3.9" fill="url(#gMid)" stroke="#0a0a0a" stroke-width="1.1" transform="rotate(10 7.4 -5.1)"/>
<ellipse cx="-0.2" cy="-4.8" rx="4.5" ry="2.5" fill="#e2e2e2" stroke="#333" stroke-width="0.8" transform="rotate(-6 -0.2 -4.8)"/>
<text x="-0.2" y="-3.3" font-size="4" text-anchor="middle" font-weight="bold" fill="#111">V</text>
<text x="7.4" y="-3.8" font-size="3.4" text-anchor="middle" font-weight="bold" fill="#222">I</text>
</g>
<circle cx="368.00" cy="247.80" r="3.90" fill="url(#gDark)" stroke="#111" stroke-width="0.4"/>
<circle cx="375.60" cy="247.80" r="3.90" fill="url(#gDark)" stroke="#111" stroke-width="0.4"/>
<circle cx="383.20" cy="247.80" r="3.90" fill="url(#gDark)" stroke="#111" stroke-width="0.4"/>
<circle cx="390.80" cy="247.80" r="3.90" fill="url(#gDark)" stroke="#111" stroke-width="0.4"/>
<circle cx="398.40" cy="247.80" r="3.60" fill="#fff" stroke="#222" stroke-width="0.9" stroke-dasharray="1.8 0.4"/>
<text x="368.00" y="249.00" font-size="3.8" text-anchor="middle" font-weight="bold" fill="#fff">I</text>
<text x="375.60" y="249.00" font-size="3.8" text-anchor="middle" font-weight="bold" fill="#fff">II</text>
<text x="383.20" y="249.00" font-size="3.8" text-anchor="middle" font-weight="bold" fill="#fff">III</text>
<text x="390.80" y="249.00" font-size="3.8" text-anchor="middle" font-weight="bold" fill="#fff">IV</text>
<circle cx="421.30" cy="247.80" r="3.50" fill="#fff" stroke="#222" stroke-width="0.9" stroke-dasharray="1.8 0.4"/>
<circle cx="428.60" cy="247.80" r="3.50" fill="#fff" stroke="#222" stroke-width="0.9" stroke-dasharray="1.8 0.4"/>
<circle cx="435.90" cy="247.80" r="3.50" fill="#fff" stroke="#222" stroke-width="0.9" stroke-dasharray="1.8 0.4"/>
<circle cx="443.20" cy="247.80" r="3.80" fill="url(#gDark)" stroke="#111" stroke-width="0.4"/>
<circle cx="450.50" cy="247.80" r="3.80" fill="url(#gMid)" stroke="#333" stroke-width="0.5"/>
<text x="443.20" y="249.00" font-size="3.8" text-anchor="middle" font-weight="bold" fill="#fff">IV</text>
<text x="450.50" y="249.00" font-size="3.8" text-anchor="middle" font-weight="bold" fill="#222">V</text>
<line x1="307.50" y1="262.50" x2="307.50" y2="357.60" stroke="#000" stroke-width="1.35"/>
<line x1="306.90" y1="357.00" x2="501.00" y2="357.00" stroke="#000" stroke-width="1.4"/>
<line x1="305.30" y1="357.00" x2="307.50" y2="357.00" stroke="#000" stroke-width="1.1"/>
<text x="304.50" y="359.75" font-size="7.8" text-anchor="end" font-weight="bold" fill="#111" stroke="#111" stroke-width="0.18" >0.0</text>
<line x1="305.30" y1="325.67" x2="307.50" y2="325.67" stroke="#000" stroke-width="1.1"/>
<text x="304.50" y="328.42" font-size="7.8" text-anchor="end" font-weight="bold" fill="#111" stroke="#111" stroke-width="0.18" >0.5</text>
<line x1="305.30" y1="294.33" x2="307.50" y2="294.33" stroke="#000" stroke-width="1.1"/>
<text x="304.50" y="297.08" font-size="7.8" text-anchor="end" font-weight="bold" fill="#111" stroke="#111" stroke-width="0.18" >1.0</text>
<line x1="305.30" y1="263.00" x2="307.50" y2="263.00" stroke="#000" stroke-width="1.1"/>
<text x="304.50" y="265.75" font-size="7.8" text-anchor="end" font-weight="bold" fill="#111" stroke="#111" stroke-width="0.18" >1.5</text>
<text transform="translate(283.40,308.20) rotate(-90)" font-size="6.65" text-anchor="middle" font-weight="bold" fill="#111" stroke="#111" stroke-width="0.15">factor H binding [A<tspan font-size="4.6" dy="1.3">450</tspan><tspan dy="-1.3">]</tspan></text>
<rect x="313.45" y="356.20" width="6.30" height="0.80" fill="#0a0a0a" stroke="#1a1a1a" stroke-width="0.9"/>
<line x1="326.90" y1="341.96" x2="326.90" y2="342.59" stroke="#222" stroke-width="0.9"/>
<line x1="324.60" y1="341.96" x2="329.20" y2="341.96" stroke="#222" stroke-width="1.0"/>
<rect x="323.45" y="343.04" width="6.90" height="13.96" fill="#0a0a0a" stroke="#1a1a1a" stroke-width="0.9"/>
<line x1="337.30" y1="335.07" x2="337.30" y2="335.69" stroke="#222" stroke-width="0.9"/>
<line x1="335.00" y1="335.07" x2="339.60" y2="335.07" stroke="#222" stroke-width="1.0"/>
<rect x="333.75" y="336.14" width="7.10" height="20.86" fill="#0a0a0a" stroke="#1a1a1a" stroke-width="0.9"/>
<line x1="347.80" y1="327.55" x2="347.80" y2="333.19" stroke="#222" stroke-width="0.9"/>
<line x1="345.50" y1="327.55" x2="350.10" y2="327.55" stroke="#222" stroke-width="1.0"/>
<rect x="344.25" y="333.64" width="7.10" height="23.36" fill="#0a0a0a" stroke="#1a1a1a" stroke-width="0.9"/>
<rect x="361.65" y="356.20" width="6.20" height="0.80" fill="url(#dots)" stroke="#1a1a1a" stroke-width="0.9"/>
<line x1="375.00" y1="303.86" x2="375.00" y2="304.36" stroke="#222" stroke-width="0.9"/>
<line x1="372.70" y1="303.86" x2="377.30" y2="303.86" stroke="#222" stroke-width="1.0"/>
<rect x="371.65" y="304.81" width="6.70" height="52.19" fill="url(#hatch)" stroke="#1a1a1a" stroke-width="0.9"/>
<line x1="385.60" y1="287.75" x2="385.60" y2="290.57" stroke="#222" stroke-width="0.9"/>
<line x1="383.30" y1="287.75" x2="387.90" y2="287.75" stroke="#222" stroke-width="1.0"/>
<rect x="382.15" y="291.02" width="6.90" height="65.98" fill="url(#hatch)" stroke="#1a1a1a" stroke-width="0.9"/>
<line x1="395.90" y1="270.21" x2="395.90" y2="277.41" stroke="#222" stroke-width="0.9"/>
<line x1="393.60" y1="270.21" x2="398.20" y2="270.21" stroke="#222" stroke-width="1.0"/>
<rect x="392.45" y="277.86" width="6.90" height="79.14" fill="url(#hatch)" stroke="#1a1a1a" stroke-width="0.9"/>
<rect x="409.95" y="356.20" width="6.40" height="0.80" fill="url(#dots)" stroke="#1a1a1a" stroke-width="0.9"/>
<line x1="423.50" y1="341.02" x2="423.50" y2="341.33" stroke="#222" stroke-width="0.9"/>
<line x1="421.20" y1="341.02" x2="425.80" y2="341.02" stroke="#222" stroke-width="1.0"/>
<rect x="419.95" y="341.78" width="7.10" height="15.22" fill="url(#dots)" stroke="#1a1a1a" stroke-width="0.9"/>
<line x1="433.80" y1="337.07" x2="433.80" y2="337.57" stroke="#222" stroke-width="0.9"/>
<line x1="431.50" y1="337.07" x2="436.10" y2="337.07" stroke="#222" stroke-width="1.0"/>
<rect x="430.45" y="338.02" width="6.70" height="18.98" fill="url(#dots)" stroke="#1a1a1a" stroke-width="0.9"/>
<line x1="444.40" y1="324.10" x2="444.40" y2="326.29" stroke="#222" stroke-width="0.9"/>
<line x1="442.10" y1="324.10" x2="446.70" y2="324.10" stroke="#222" stroke-width="1.0"/>
<rect x="440.95" y="326.74" width="6.90" height="30.26" fill="url(#dots)" stroke="#1a1a1a" stroke-width="0.9"/>
<rect x="468.45" y="354.32" width="7.40" height="2.68" fill="#0a0a0a" stroke="#1a1a1a" stroke-width="0.9"/>
<text x="308.20" y="365.60" font-size="6.2" text-anchor="end" font-weight="bold" fill="#111" stroke="#111" stroke-width="0.18" >factor H</text>
<text x="316.40" y="365.60" font-size="6.3" text-anchor="middle" font-weight="bold" fill="#111" stroke="#111" stroke-width="0.18" >0</text>
<text x="325.00" y="365.60" font-size="6.3" text-anchor="middle" font-weight="bold" fill="#111" stroke="#111" stroke-width="0.18" >12.5</text>
<text x="337.50" y="365.60" font-size="6.3" text-anchor="middle" font-weight="bold" fill="#111" stroke="#111" stroke-width="0.18" >25</text>
<text x="347.50" y="365.60" font-size="6.3" text-anchor="middle" font-weight="bold" fill="#111" stroke="#111" stroke-width="0.18" >50</text>
<text x="365.00" y="365.60" font-size="6.3" text-anchor="middle" font-weight="bold" fill="#111" stroke="#111" stroke-width="0.18" >0</text>
<text x="374.30" y="365.60" font-size="6.3" text-anchor="middle" font-weight="bold" fill="#111" stroke="#111" stroke-width="0.18" >12.5</text>
<text x="386.00" y="365.60" font-size="6.3" text-anchor="middle" font-weight="bold" fill="#111" stroke="#111" stroke-width="0.18" >25</text>
<text x="396.00" y="365.60" font-size="6.3" text-anchor="middle" font-weight="bold" fill="#111" stroke="#111" stroke-width="0.18" >50</text>
<text x="413.00" y="365.60" font-size="6.3" text-anchor="middle" font-weight="bold" fill="#111" stroke="#111" stroke-width="0.18" >0</text>
<text x="423.00" y="365.60" font-size="6.3" text-anchor="middle" font-weight="bold" fill="#111" stroke="#111" stroke-width="0.18" >12.5</text>
<text x="434.00" y="365.60" font-size="6.3" text-anchor="middle" font-weight="bold" fill="#111" stroke="#111" stroke-width="0.18" >25</text>
<text x="444.00" y="365.60" font-size="6.3" text-anchor="middle" font-weight="bold" fill="#111" stroke="#111" stroke-width="0.18" >50</text>
<text x="472.00" y="365.60" font-size="6.3" text-anchor="middle" font-weight="bold" fill="#111" stroke="#111" stroke-width="0.18" >50</text>
<text x="494.00" y="365.60" font-size="6.3" text-anchor="start" font-weight="bold" fill="#111" stroke="#111" stroke-width="0.18" >[nM]</text>
<text x="383.50" y="378.00" font-size="7" text-anchor="middle" font-weight="bold" fill="#111" stroke="#111" stroke-width="0.18" >C3b</text>
<line x1="313.00" y1="375.30" x2="371.00" y2="375.30" stroke="#444" stroke-width="1.3"/>
<line x1="392.50" y1="375.30" x2="449.00" y2="375.30" stroke="#444" stroke-width="1.3"/>
<text x="472.00" y="374.00" font-size="6.6" text-anchor="middle" font-weight="bold" fill="#111" stroke="#111" stroke-width="0.18" >back-</text>
<text x="472.00" y="381.30" font-size="6.6" text-anchor="middle" font-weight="bold" fill="#111" stroke="#111" stroke-width="0.18" >ground</text>
<line x1="314.50" y1="320.00" x2="347.50" y2="320.00" stroke="#444" stroke-width="1.2"/>
<text x="332.00" y="320.80" font-size="10" text-anchor="middle" font-weight="bold" fill="#111" stroke="#111" stroke-width="0.18" letter-spacing="0.8">***</text>
<line x1="347.00" y1="265.50" x2="396.40" y2="265.50" stroke="#444" stroke-width="1.2"/>
<text x="369.60" y="268.10" font-size="10" text-anchor="middle" font-weight="bold" fill="#111" stroke="#111" stroke-width="0.18" letter-spacing="0.8">***</text>
<line x1="363.80" y1="268.60" x2="396.40" y2="268.60" stroke="#444" stroke-width="1.2"/>
<line x1="363.80" y1="284.30" x2="384.70" y2="284.30" stroke="#444" stroke-width="1.2"/>
<text x="373.70" y="286.30" font-size="10" text-anchor="middle" font-weight="bold" fill="#111" stroke="#111" stroke-width="0.18" letter-spacing="0.8">***</text>
<line x1="363.80" y1="295.20" x2="376.40" y2="295.20" stroke="#444" stroke-width="1.2"/>
<text x="369.60" y="297.30" font-size="10" text-anchor="middle" font-weight="bold" fill="#111" stroke="#111" stroke-width="0.18" letter-spacing="0.8">***</text>
<line x1="413.80" y1="320.00" x2="446.30" y2="320.00" stroke="#444" stroke-width="1.2"/>
<text x="430.70" y="320.80" font-size="10" text-anchor="middle" font-weight="bold" fill="#111" stroke="#111" stroke-width="0.18" letter-spacing="0.8">***</text>
</g>
<g id="panelE">
<text x="3.00" y="409.00" font-size="11.5" text-anchor="start" font-weight="bold" fill="#000" stroke="#000" stroke-width="0.18" >E</text>
<text x="119.80" y="434.30" font-size="7.7" text-anchor="middle" font-weight="bold" fill="#111" stroke="#111" stroke-width="0.18" >NHP</text>
<line x1="53.80" y1="439.00" x2="173.20" y2="439.00" stroke="#111" stroke-width="1.3"/>
<line x1="75.40" y1="447.70" x2="80.60" y2="447.70" stroke="#222" stroke-width="1.7"/>
<line x1="71.00" y1="452.60" x2="82.80" y2="452.60" stroke="#222" stroke-width="1.2"/>
<text y="450.6" font-size="7.7" fill="#111"><tspan x="96.4" font-family='"Liberation Serif",serif' font-size="8.8" fill="#3a3a3a" stroke="#3a3a3a" stroke-width="0.2">α</tspan><tspan x="102.2" font-family='"Liberation Serif",serif' font-size="8.8" fill="#3a3a3a" stroke="#3a3a3a" stroke-width="0.2">β</tspan><tspan x="107.4" font-size="6.4" font-weight="bold" stroke="#111" stroke-width="0.15">2</tspan><tspan x="111" font-weight="bold" stroke="#111" stroke-width="0.18">GPI</tspan></text>
<line x1="90.70" y1="452.60" x2="133.40" y2="452.60" stroke="#222" stroke-width="1.2"/>
<text y="450.6" font-size="7.7" fill="#111"><tspan x="144.2" font-family='"Liberation Serif",serif' font-size="8.8" fill="#3a3a3a" stroke="#3a3a3a" stroke-width="0.2">α</tspan><tspan x="149.4" font-weight="bold" stroke="#111" stroke-width="0.18">C3a</tspan></text>
<line x1="136.20" y1="452.60" x2="172.60" y2="452.60" stroke="#222" stroke-width="1.2"/>
<rect x="50.4" y="459.2" width="122.19999999999999" height="32" fill="#fdfdfd"/>
<rect x="50.4" y="496" width="122.19999999999999" height="30.2" fill="#f7f7f7"/>
<clipPath id="cpT"><rect x="50.4" y="459.2" width="122.2" height="32"/></clipPath>
<clipPath id="cpB"><rect x="50.4" y="496" width="122.2" height="30.2"/></clipPath>
<g clip-path="url(#cpT)"><g filter="url(#blur1)">
<rect x="52.6" y="462" width="16.4" height="26.5" fill="#efefef"/>
<rect x="52.2" y="462" width="1.2" height="26.5" fill="#bbb"/>
<rect x="68.4" y="462" width="1.2" height="26.5" fill="#c4c4c4"/>
<rect x="52.2" y="463.5" width="17" height="2.2" fill="#666"/>
<rect x="53.6" y="485.1" width="14.8" height="2.3" fill="#666"/>
<rect x="143" y="466" width="10" height="20.5" fill="#f3f3f3"/>
<rect x="159" y="466" width="8" height="20.5" fill="#f6f6f6"/>
</g><g filter="url(#blur0)">
<rect x="141.2" y="464.0" width="13.4" height="1.9" fill="#2a2a2a"/>
<rect x="141.2" y="485.9" width="13.4" height="2.4" fill="#444"/>
<rect x="157.2" y="464.1" width="10.6" height="1.7" fill="#888"/>
<rect x="157.5" y="485.9" width="10.8" height="2.3" fill="#606060"/>
</g>
<g filter="url(#blur2)" opacity="0.3">
<ellipse cx="104" cy="481" rx="14" ry="6" fill="#dcdcdc"/>
<ellipse cx="130" cy="467" rx="5" ry="5" fill="#e2e2e2"/>
<ellipse cx="80" cy="486" rx="6" ry="3" fill="#e6e6e6"/>
</g></g>
<g clip-path="url(#cpB)"><g filter="url(#blur1)">
<rect x="50.6" y="496.5" width="1.8" height="29" fill="#999"/>
<rect x="53.4" y="508.7" width="13.8" height="4.2" rx="2" fill="#000"/>
<ellipse cx="60.3" cy="510.9" rx="7.4" ry="2.3" fill="#000"/>
<ellipse cx="79" cy="512" rx="3.6" ry="1.3" fill="#b4b4b4"/>
<ellipse cx="95.5" cy="512" rx="6.6" ry="2.0" fill="#505050"/>
<ellipse cx="112.5" cy="509" rx="6.2" ry="2.4" fill="#777"/>
<ellipse cx="128.8" cy="509.7" rx="5.9" ry="2.4" fill="#808080"/>
<ellipse cx="146.5" cy="511.8" rx="7.6" ry="3.0" fill="#5c5c5c"/>
<ellipse cx="164.8" cy="510.6" rx="7.6" ry="2.9" fill="#5c5c5c"/>
<ellipse cx="166" cy="499.4" rx="7.5" ry="2.2" fill="#666" transform="rotate(-18 166 499.4)"/>
</g>
<circle cx="81.1" cy="512.2" r="0.41" fill="#666" opacity="0.7"/>
<circle cx="124.3" cy="514.4" r="0.32" fill="#666" opacity="0.7"/>
<circle cx="54.6" cy="520.1" r="0.38" fill="#666" opacity="0.7"/>
<circle cx="80.7" cy="524.4" r="0.44" fill="#666" opacity="0.7"/>
<circle cx="151.7" cy="510.4" r="0.49" fill="#666" opacity="0.7"/>
<circle cx="70.8" cy="514.6" r="0.56" fill="#666" opacity="0.7"/>
<circle cx="114.7" cy="517.5" r="0.50" fill="#666" opacity="0.7"/>
<circle cx="60.6" cy="518.0" r="0.48" fill="#666" opacity="0.7"/>
<circle cx="88.5" cy="498.3" r="0.56" fill="#666" opacity="0.7"/>
<circle cx="108.8" cy="516.9" r="0.56" fill="#666" opacity="0.7"/>
<circle cx="137.3" cy="522.4" r="0.42" fill="#666" opacity="0.7"/>
<circle cx="147.5" cy="509.5" r="0.58" fill="#666" opacity="0.7"/>
<circle cx="156.7" cy="500.1" r="0.34" fill="#666" opacity="0.7"/>
<circle cx="78.6" cy="523.6" r="0.43" fill="#666" opacity="0.7"/>
<circle cx="126.9" cy="505.6" r="0.45" fill="#666" opacity="0.7"/>
<circle cx="98.5" cy="507.0" r="0.48" fill="#666" opacity="0.7"/>
<circle cx="121.9" cy="521.9" r="0.50" fill="#666" opacity="0.7"/>
<circle cx="162.6" cy="520.6" r="0.60" fill="#666" opacity="0.7"/>
<circle cx="132.2" cy="501.9" r="0.56" fill="#666" opacity="0.7"/>
<circle cx="166.8" cy="521.9" r="0.47" fill="#666" opacity="0.7"/>
<circle cx="137.2" cy="503.2" r="0.55" fill="#666" opacity="0.7"/>
<circle cx="120.7" cy="505.2" r="0.32" fill="#666" opacity="0.7"/>
<circle cx="153.8" cy="524.2" r="0.33" fill="#666" opacity="0.7"/>
<circle cx="147.5" cy="508.6" r="0.35" fill="#666" opacity="0.7"/>
<circle cx="87.7" cy="518.3" r="0.56" fill="#666" opacity="0.7"/>
<circle cx="58.2" cy="514.1" r="0.31" fill="#666" opacity="0.7"/>
<circle cx="137.8" cy="506.4" r="0.56" fill="#666" opacity="0.7"/>
<circle cx="168.7" cy="511.1" r="0.60" fill="#666" opacity="0.7"/>
<circle cx="89.5" cy="499.6" r="0.48" fill="#666" opacity="0.7"/>
<circle cx="56.7" cy="502.8" r="0.42" fill="#666" opacity="0.7"/>
<circle cx="125.0" cy="501.7" r="0.31" fill="#666" opacity="0.7"/>
<circle cx="155.4" cy="506.0" r="0.59" fill="#666" opacity="0.7"/>
<circle cx="158.8" cy="507.7" r="0.44" fill="#666" opacity="0.7"/>
<circle cx="114.4" cy="514.9" r="0.48" fill="#666" opacity="0.7"/>
</g>
<rect x="49.8" y="458.6" width="123.39999999999999" height="33.2" fill="none" stroke="#1a1a1a" stroke-width="1.2"/>
<rect x="49.8" y="495.4" width="123.39999999999999" height="31.4" fill="none" stroke="#1a1a1a" stroke-width="1.2"/>
<text x="41.00" y="462.50" font-size="7.8" text-anchor="end" font-weight="bold" fill="#111" stroke="#111" stroke-width="0.18" >130</text>
<line x1="44.20" y1="459.30" x2="49.80" y2="459.30" stroke="#222" stroke-width="1.2"/>
<text x="39.60" y="493.80" font-size="7.8" text-anchor="end" font-weight="bold" fill="#111" stroke="#111" stroke-width="0.18" >72</text>
<line x1="43.30" y1="491.20" x2="49.80" y2="491.20" stroke="#222" stroke-width="1.2"/>
<text x="36.80" y="512.90" font-size="7.8" text-anchor="end" font-weight="bold" fill="#111" stroke="#111" stroke-width="0.18" >55</text>
<line x1="44.50" y1="510.40" x2="49.80" y2="510.40" stroke="#222" stroke-width="1.2"/>
<text x="60.80" y="535.40" font-size="8" text-anchor="middle" font-weight="bold" fill="#111" stroke="#111" stroke-width="0.18" >1</text>
<text x="79.50" y="535.40" font-size="8" text-anchor="middle" font-weight="bold" fill="#111" stroke="#111" stroke-width="0.18" >2</text>
<text x="98.00" y="535.40" font-size="8" text-anchor="middle" font-weight="bold" fill="#111" stroke="#111" stroke-width="0.18" >3</text>
<text x="112.00" y="535.40" font-size="8" text-anchor="middle" font-weight="bold" fill="#111" stroke="#111" stroke-width="0.18" >4</text>
<text x="133.00" y="535.40" font-size="8" text-anchor="middle" font-weight="bold" fill="#111" stroke="#111" stroke-width="0.18" >5</text>
<text x="149.40" y="535.40" font-size="8" text-anchor="middle" font-weight="bold" fill="#111" stroke="#111" stroke-width="0.18" >6</text>
<text x="165.60" y="535.40" font-size="8" text-anchor="middle" font-weight="bold" fill="#111" stroke="#111" stroke-width="0.18" >7</text>
<line x1="173.20" y1="464.50" x2="177.70" y2="464.50" stroke="#222" stroke-width="1.1"/>
<line x1="173.20" y1="486.60" x2="177.70" y2="486.60" stroke="#222" stroke-width="1.1"/>
<line x1="173.20" y1="510.20" x2="177.70" y2="510.20" stroke="#222" stroke-width="1.1"/>
<text x="186" y="467.2" font-size="9.4" text-anchor="middle" fill="#444" stroke="#444" stroke-width="0.2" font-family='"Liberation Serif",serif'>α</text>
<text x="186" y="489.4" font-size="9.4" text-anchor="middle" fill="#444" stroke="#444" stroke-width="0.2" font-family='"Liberation Serif",serif'>β</text>
<text x="200.50" y="476.30" font-size="7.8" text-anchor="middle" font-weight="bold" fill="#111" stroke="#111" stroke-width="0.18" >C3</text>
<text y="513.8" font-size="8.3" fill="#111"><tspan x="184.2" font-family='"Liberation Serif",serif' font-size="9.6" fill="#333">β</tspan><tspan x="189.2" font-weight="bold" stroke="#111" stroke-width="0.18">2GPI</tspan></text>
</g>
</svg>
</body></html>
